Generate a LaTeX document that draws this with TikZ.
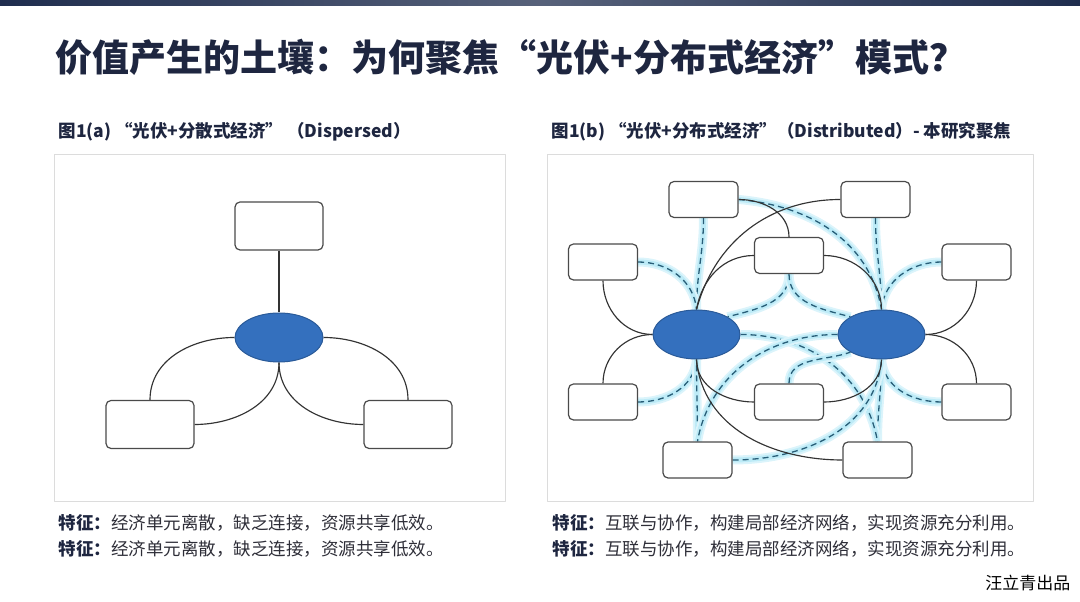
\documentclass[tikz,border=0pt]{standalone}
\usepackage{fontspec}
\setmainfont{Noto Sans CJK SC}
\usetikzlibrary{shapes.geometric,backgrounds}

\definecolor{titlec}{HTML}{1E2640}
\definecolor{textc}{HTML}{2E2E38}
\definecolor{framec}{HTML}{DCDCDC}
\definecolor{boxc}{HTML}{4A4A4A}
\definecolor{hubc}{HTML}{3470BE}
\definecolor{hubline}{HTML}{2A5A98}
\definecolor{dashc}{HTML}{285E78}
\definecolor{glowc}{HTML}{BDEBF7}
\definecolor{barc}{HTML}{1F2D4E}

\begin{document}
\begin{tikzpicture}[
  x=1pt, y=1pt,
  line cap=round,
  line join=round,
  box/.style={draw=boxc, fill=white, line width=1.2pt,
    rounded corners=5pt, minimum width=88pt, minimum height=48pt,
    inner sep=0pt},
  smallbox/.style={box, minimum width=69pt, minimum height=36pt},
  hub/.style={ellipse, draw=hubline, fill=hubc, line width=1pt,
    minimum width=88pt, minimum height=49pt, inner sep=0pt},
  link/.style={draw=black!80, line width=1.15pt},
  flow/.style={draw=dashc, line width=1.3pt,
    dash pattern=on 6pt off 4pt,
    preaction={draw=glowc!55, line width=9pt, solid},
    preaction={draw=glowc, line width=5pt, solid}},
  heading/.style={anchor=west, text=titlec,
    font=\bfseries\fontsize{17.5}{20}\selectfont},
  feature/.style={anchor=west, text=textc,
    font=\fontsize{17.5}{20}\selectfont}
]
  \useasboundingbox (0,0) rectangle (1080,602);

  % 顶部色条
  \shade[left color=barc, right color=barc, middle color=barc!75!white]
    (0,596) rectangle (1080,602);

  % 标题
  \node[anchor=west, text=titlec,
    font=\bfseries\fontsize{37}{40}\selectfont]
    (title) at (52,545)
    {价值产生的土壤：为何聚焦“光伏+分布式经济”模式？};

  \node[heading] (capA) at (55,470)
    {图1(a) “光伏+分散式经济” （Dispersed）};
  \node[heading] (capB) at (548,470)
    {图1(b) “光伏+分布式经济”（Distributed）- 本研究聚焦};

  % 边框
  \draw[framec, line width=1pt] (54,100) rectangle (505,447);
  \draw[framec, line width=1pt] (547,100) rectangle (1033,447);

  % 图1(a)
  \node[box] (topA) at (279,376) {};
  \node[hub] (hubA) at (279,264.5) {};
  \node[box] (leftA) at (150,177.5) {};
  \node[box] (rightA) at (408,177.5) {};

  % 图1(b)
  \node[hub, minimum width=87pt] (hubL) at (696.5,267.5) {};
  \node[hub, minimum width=87pt] (hubR) at (881.5,267.5) {};
  \node[smallbox] (nA) at (703.5,402.5) {};
  \node[smallbox] (nD) at (875.5,402.5) {};
  \node[smallbox] (nB) at (603,340) {};
  \node[smallbox] (nE) at (976.5,340) {};
  \node[smallbox] (nC) at (789,346.5) {};
  \node[smallbox] (nF) at (603,200) {};
  \node[smallbox] (nI) at (976.5,200) {};
  \node[smallbox] (nH) at (789,200) {};
  \node[smallbox] (nG) at (697.5,142) {};
  \node[smallbox] (nJ) at (877.5,142) {};

  \begin{scope}[on background layer]
    % 分散：三条连线
    \draw[link] (topA.south) -- (hubA.north);
    \draw[link] (hubA.west) to[out=180,in=90] (leftA.north);
    \draw[link] (hubA.south) to[out=-90,in=0] (leftA.east);
    \draw[link] (hubA.east) to[out=0,in=90] (rightA.north);
    \draw[link] (hubA.south) to[out=-90,in=180] (rightA.west);

    % 分布：虚线（能量流）
    \draw[flow] (nA.south) to[out=-90,in=90] (hubL.north);
    \draw[flow] (nB.east) to[out=0,in=95] (hubL.north);
    \draw[flow] (nF.east) to[out=0,in=-95] (hubL.south);
    \draw[flow] (nG.north) to[out=90,in=-90] (hubL.south);
    \draw[flow] (nD.south) to[out=-90,in=90] (hubR.north);
    \draw[flow] (nE.west) to[out=180,in=85] (hubR.north);
    \draw[flow] (nI.west) to[out=180,in=-85] (hubR.south);
    \draw[flow] (nJ.north) to[out=90,in=-90] (hubR.south);
    \draw[flow] (nA.east) to[out=-5,in=100] (hubR.north);
    \draw[flow] (nC.south) to[out=-90,in=15] (hubL.north east);
    \draw[flow] (nC.south) to[out=-90,in=165] (hubR.north west);
    \draw[flow] (hubL.east) to[out=0,in=100] (nJ.north);
    \draw[flow] (hubR.west) to[out=180,in=80] (nG.north);
    \draw[flow] (nH.north) to[out=90,in=200] (hubR.south west);
    \draw[flow] (nG.east) to[out=0,in=-95] (hubR.south);

    % 分布：实线
    \draw[link] (nB.south) to[out=-90,in=180] (hubL.west);
    \draw[link] (nF.north) to[out=90,in=180] (hubL.west);
    \draw[link] (hubL.north) to[out=80,in=180] (nC.west);
    \draw[link] (hubL.north) to[out=75,in=180] (nD.west);
    \draw[link] (nA.east) to[out=0,in=90] (nC.north);
    \draw[link] (nC.east) to[out=0,in=90] (hubR.north);
    \draw[link] (nE.south) to[out=-90,in=0] (hubR.east);
    \draw[link] (nI.north) to[out=90,in=0] (hubR.east);
    \draw[link] (hubL.south) to[out=-90,in=180] (nH.west);
    \draw[link] (hubL.south) to[out=-85,in=180] (nJ.west);
    \draw[link] (nH.east) to[out=0,in=-90] (hubR.south);
  \end{scope}

  % 特征说明
  \node[feature] (featA1) at (55,79)
    {\textcolor{titlec}{\bfseries 特征：}经济单元离散，缺乏连接，资源共享低效。};
  \node[feature] (featA2) at (55,53)
    {\textcolor{titlec}{\bfseries 特征：}经济单元离散，缺乏连接，资源共享低效。};
  \node[feature] (featB1) at (549,79)
    {\textcolor{titlec}{\bfseries 特征：}互联与协作，构建局部经济网络，实现资源充分利用。};
  \node[feature] (featB2) at (549,53)
    {\textcolor{titlec}{\bfseries 特征：}互联与协作，构建局部经济网络，实现资源充分利用。};

  \node[anchor=east, text=black, font=\fontsize{17}{20}\selectfont]
    (credit) at (1074,19) {汪立青出品};
\end{tikzpicture}
\end{document}
